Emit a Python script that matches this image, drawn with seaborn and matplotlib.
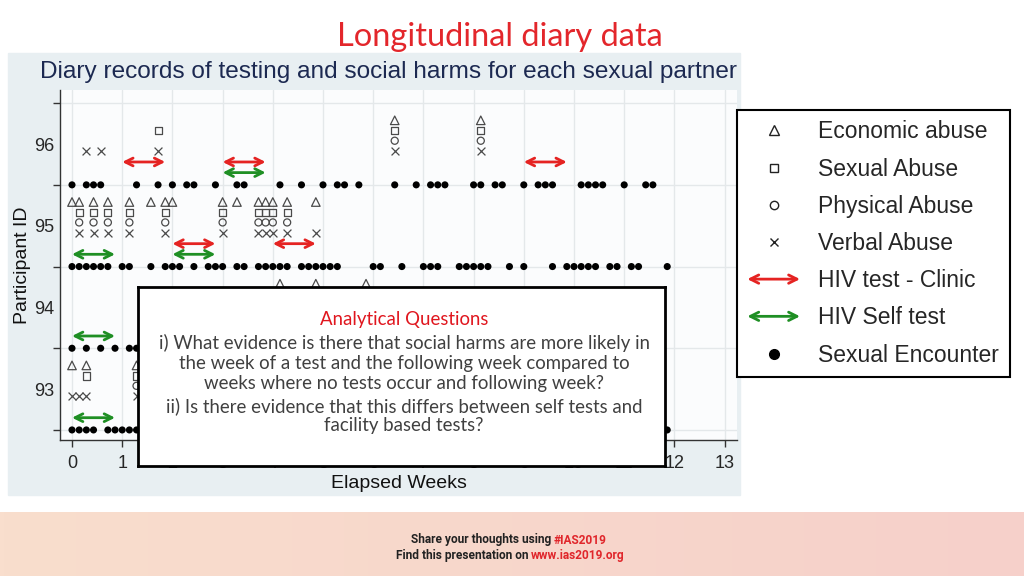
import numpy as np
import pandas as pd
import matplotlib
matplotlib.use('Agg')
import matplotlib.pyplot as plt
import seaborn as sns
from matplotlib.lines import Line2D
from matplotlib.patches import Rectangle, FancyArrowPatch
from matplotlib.legend_handler import HandlerBase
from matplotlib.ticker import NullFormatter

# Diary data: days since enrolment for each participant
enc_96 = [0, 2, 3, 4, 9, 12, 14, 16, 17, 20, 23, 24, 29, 32, 35, 37, 38, 40, 45, 48,
          50, 51, 52, 56, 57, 59, 60, 63, 65, 66, 67, 71, 72, 73, 74, 77, 80, 81]
enc_95 = [0, 1, 2, 3, 4, 5, 7, 8, 11, 13, 14, 15, 17, 19, 20, 21, 23, 24, 26, 27, 28,
          29, 30, 32, 33, 34, 35, 36, 37, 42, 43, 46, 49, 50, 51, 54, 55, 56, 57, 58,
          61, 63, 67, 69, 70, 71, 72, 73, 75, 76, 78, 79, 83]
enc_94 = [0, 2, 4, 6, 8, 9]
enc_93 = [0, 1, 2, 3, 5, 6, 7, 8, 9, 83]

econ_96 = [45, 57]
sexual_96 = [12, 45, 57]
physical_96 = [45, 57]
verbal_96 = [2, 4, 12, 45, 57]

econ_95 = [0, 1, 3, 5, 8, 11, 13, 14, 21, 23, 26, 27, 28, 30, 34]
sexual_95 = [1, 3, 5, 8, 13, 21, 26, 27, 28, 30]
physical_95 = [1, 3, 5, 8, 13, 21, 26, 27, 28, 30]
verbal_95 = [1, 3, 5, 8, 13, 21, 26, 27, 28, 30, 34]

econ_94 = [29, 34, 41]

econ_93 = [0, 2, 9]
sexual_93 = [2, 9]
physical_93 = [9]
verbal_93 = [0, 1, 2, 9]

# HIV tests: participant and week the test week starts
clinic_ids = [96, 96, 96, 95, 95]
clinic_weeks = [1, 3, 9, 2, 4]
self_ids = [96, 95, 95, 94, 93]
self_weeks = [3, 0, 2, 0, 0]

question_lines = [
    "i) What evidence is there that social harms are more likely in",
    "the week of a test and the following week compared to",
    "weeks where no tests occur and following week?",
    "ii) Is there evidence that this differs between self tests and",
    "facility based tests?",
]

RED = '#e52322'
GREEN = '#1f8f24'
GREY = '#4a4a4a'

W, H = 1024, 576


def fx(px):
    return px / W


def fy(py):
    return 1 - py / H


def days_frame(days, pid, kind):
    return pd.DataFrame({'week': np.array(days) / 7.0, 'pid': pid, 'kind': kind})


encounters = pd.concat([days_frame(enc_96, 96, 'enc'), days_frame(enc_95, 95, 'enc'),
                        days_frame(enc_94, 94, 'enc'), days_frame(enc_93, 93, 'enc')])
encounters['y'] = encounters['pid'] - 0.5

harms = pd.concat([
    days_frame(econ_96, 96, 'econ'), days_frame(sexual_96, 96, 'sexual'),
    days_frame(physical_96, 96, 'physical'), days_frame(verbal_96, 96, 'verbal'),
    days_frame(econ_95, 95, 'econ'), days_frame(sexual_95, 95, 'sexual'),
    days_frame(physical_95, 95, 'physical'), days_frame(verbal_95, 95, 'verbal'),
    days_frame(econ_94, 94, 'econ'),
    days_frame(econ_93, 93, 'econ'), days_frame(sexual_93, 93, 'sexual'),
    days_frame(physical_93, 93, 'physical'), days_frame(verbal_93, 93, 'verbal'),
])
harm_offset = {'econ': 0.29, 'sexual': 0.16, 'physical': 0.04, 'verbal': -0.09}
harm_marker = {'econ': '^', 'sexual': 's', 'physical': 'o', 'verbal': 'x'}
harm_size = {'econ': 38, 'sexual': 26, 'physical': 26, 'verbal': 32}
harms['y'] = harms['pid'] + harms['kind'].map(harm_offset)

sns.set_theme(style='whitegrid')
plt.rcParams['font.family'] = ['Liberation Sans', 'DejaVu Sans']

fig = plt.figure(figsize=(W / 100, H / 100), dpi=100)
fig.patch.set_facecolor('white')

# pasted screenshot background
fig.patches.append(Rectangle((fx(8), fy(495)), fx(740) - fx(8), fy(53) - fy(495),
                             transform=fig.transFigure, color='#e8eff2', zorder=-5))

# footer band
fax = fig.add_axes([0, 0, 1, 64 / H])
g = np.linspace(0, 1, 256)[:, None]
c0 = np.array([249, 222, 205]) / 255
c1 = np.array([246, 208, 202]) / 255
fax.imshow((c0 * (1 - g) + c1 * g)[None, :, :], aspect='auto', extent=[0, 1, 0, 1])
fax.axis('off')

# main chart
ax = fig.add_axes([fx(60), fy(440), fx(737) - fx(60), fy(90) - fy(440)])
ax.set_facecolor('#fbfcfd')

sns.scatterplot(data=encounters, x='week', y='y', color='black', s=26,
                edgecolor='none', ax=ax, zorder=4, legend=False)
for kind in ['econ', 'sexual', 'physical', 'verbal']:
    sub = harms[harms['kind'] == kind]
    if kind == 'verbal':
        sns.scatterplot(data=sub, x='week', y='y', marker='x', color=GREY,
                        s=harm_size[kind], linewidth=0.9, ax=ax, zorder=4, legend=False)
    else:
        sns.scatterplot(data=sub, x='week', y='y', marker=harm_marker[kind], color=GREY,
                        facecolor='none', edgecolor=GREY, s=harm_size[kind],
                        linewidth=0.9, ax=ax, zorder=4, legend=False)

for pid, wk in zip(clinic_ids, clinic_weeks):
    y = pid - 0.22
    ax.annotate('', xy=(wk + 6 / 7, y), xytext=(wk, y),
                arrowprops=dict(arrowstyle='<->', color=RED, lw=2, mutation_scale=14,
                                shrinkA=0, shrinkB=0), zorder=5)
for pid, wk in zip(self_ids, self_weeks):
    y = pid - 0.35
    ax.annotate('', xy=(wk + 6 / 7, y), xytext=(wk, y),
                arrowprops=dict(arrowstyle='<->', color=GREEN, lw=2, mutation_scale=14,
                                shrinkA=0, shrinkB=0), zorder=5)

ax.set_xlim(-0.239, 13.247)
ax.set_ylim(92.377, 96.661)
ax.set_xticks(range(14))
ax.set_yticks([92.5, 93.5, 94.5, 95.5, 96.5])
ax.yaxis.set_major_formatter(NullFormatter())
ax.set_yticks([93, 94, 95, 96], labels=['93', '94', '95', '96'], minor=True)
ax.tick_params(axis='both', which='major', length=5, width=1, color='#333333',
               direction='out', left=True, bottom=True, labelsize=13, pad=6)
ax.tick_params(axis='y', which='minor', length=0, left=True, labelleft=True,
               labelsize=13, pad=4)
ax.grid(True, which='major', color='#e4e8ea', lw=1)
ax.grid(False, which='minor')
for side in ['top', 'right']:
    ax.spines[side].set_visible(False)
for side in ['left', 'bottom']:
    ax.spines[side].set_color('#333333')
    ax.spines[side].set_linewidth(1)
ax.set_xlabel('Elapsed Weeks', fontsize=14, labelpad=2, color='#111111')
ax.set_ylabel('Participant ID', fontsize=14, labelpad=2, color='#111111')

fig.text(fx(40), fy(72), 'Diary records of testing and social harms for each sexual partner',
         ha='left', va='center', fontsize=17.6, color='#1c2951')
fig.text(fx(500), fy(37), 'Longitudinal diary data', ha='center', va='center',
         fontsize=23.5, color='#e3262b', family=['Lato', 'DejaVu Sans'])


# legend with double-headed arrows
class ArrowHandler(HandlerBase):
    def create_artists(self, legend, orig_handle, xdescent, ydescent, width, height,
                       fontsize, trans):
        y = height / 2 - ydescent
        arr = FancyArrowPatch((-xdescent, y), (width - xdescent, y), arrowstyle='<->',
                              mutation_scale=15, lw=2, color=orig_handle.get_color(),
                              shrinkA=0, shrinkB=0, transform=trans)
        return [arr]


clinic_h = Line2D([], [], color=RED)
self_h = Line2D([], [], color=GREEN)
handles = [
    Line2D([], [], ls='', marker='^', mfc='none', mec='#222222', ms=7, mew=1),
    Line2D([], [], ls='', marker='s', mfc='none', mec='#222222', ms=6, mew=1),
    Line2D([], [], ls='', marker='o', mfc='none', mec='#222222', ms=6, mew=1),
    Line2D([], [], ls='', marker='x', color='#222222', ms=6, mew=1),
    clinic_h, self_h,
    Line2D([], [], ls='', marker='o', color='black', ms=7),
]
labels = ['Economic abuse', 'Sexual Abuse', 'Physical Abuse', 'Verbal Abuse',
          'HIV test - Clinic', 'HIV Self test', 'Sexual Encounter']
leg = fig.legend(handles, labels, loc='upper left', bbox_to_anchor=(fx(737), fy(110)),
                 bbox_transform=fig.transFigure, frameon=True, fancybox=False,
                 edgecolor='black', framealpha=1, fontsize=16.5, handlelength=2.3,
                 handletextpad=0.8, borderpad=0.45, labelspacing=0.62, borderaxespad=0,
                 handler_map={clinic_h: ArrowHandler(), self_h: ArrowHandler()})
leg.get_frame().set_linewidth(1.5)

# text box with the analytical questions
tb = fig.add_axes([fx(138), fy(466), fx(665) - fx(138), fy(287) - fy(466)])
tb.set_facecolor('white')
tb.set_xticks([])
tb.set_yticks([])
tb.grid(False)
for s in tb.spines.values():
    s.set_color('black')
    s.set_linewidth(2)
tb.text(0.505, (466 - 319) / 179, 'Analytical Questions', transform=tb.transAxes,
        ha='center', va='center', fontsize=13.4, color='#e0161e', family=['Lato', 'DejaVu Sans'])
for line, py in zip(question_lines, [343, 363, 383, 406, 426]):
    tb.text(0.505, (466 - py) / 179, line, transform=tb.transAxes, ha='center', va='center',
            fontsize=13.4, color='#404040', family=['Lato', 'DejaVu Sans'])

# footer text
fig.text(fx(554), fy(540), 'Share your thoughts using ', ha='right', va='center',
         fontsize=8.6, fontweight='bold', color='#222222', family=['Roboto', 'DejaVu Sans'])
fig.text(fx(554), fy(540), '#IAS2019', ha='left', va='center',
         fontsize=8.6, fontweight='bold', color='#e0262b', family=['Roboto', 'DejaVu Sans'])
fig.text(fx(531), fy(556), 'Find this presentation on ', ha='right', va='center',
         fontsize=8.6, fontweight='bold', color='#222222', family=['Roboto', 'DejaVu Sans'])
fig.text(fx(531), fy(556), 'www.ias2019.org', ha='left', va='center',
         fontsize=8.6, fontweight='bold', color='#e0262b', family=['Roboto', 'DejaVu Sans'])

fig.savefig('out.png', dpi=100)
